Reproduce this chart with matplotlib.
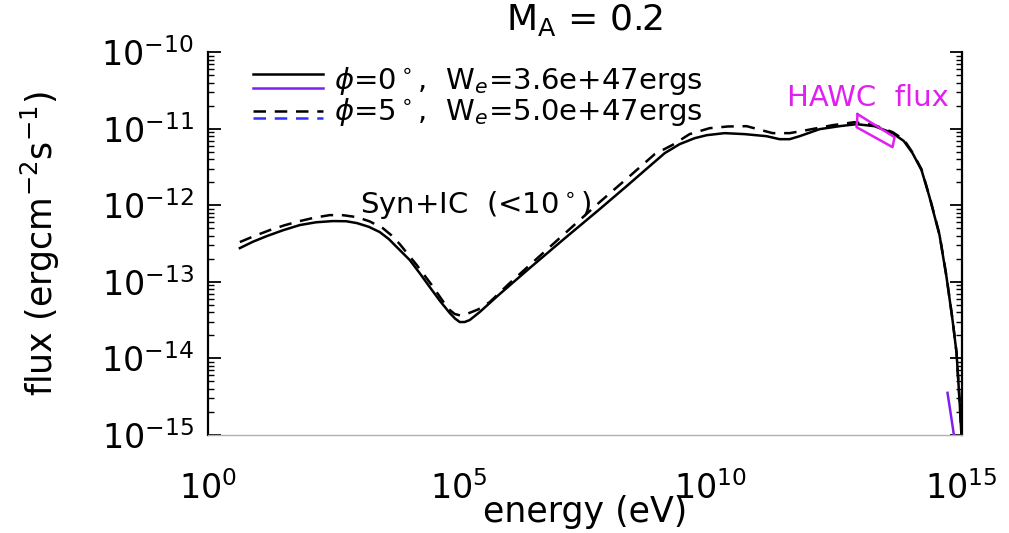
import numpy as np
import matplotlib
matplotlib.use("Agg")
import matplotlib.pyplot as plt

# log10(E / eV) and log10(flux)
solid_loge = [0.637, 0.90, 1.174, 1.50, 1.830, 2.15, 2.487, 2.75, 2.964, 3.20, 3.422, 3.60, 3.760,
              4.018, 4.22, 4.416, 4.62, 4.814, 4.92, 5.013, 5.11, 5.212, 5.411, 5.809, 6.405,
              7.062, 7.798, 8.335, 8.793, 9.091, 9.389, 9.688, 9.926, 10.284, 10.682, 11.120,
              11.379, 11.578, 11.777, 12.174, 12.572, 12.910, 13.268, 13.626, 13.85, 14.024,
              14.203, 14.362, 14.561, 14.700, 14.820, 14.900, 14.959, 14.999]
solid_logf = [-12.559, -12.475, -12.402, -12.325, -12.258, -12.222, -12.206, -12.208, -12.232,
              -12.280, -12.350, -12.440, -12.546, -12.715, -12.890, -13.068, -13.250, -13.407,
              -13.480, -13.525, -13.525, -13.499, -13.394, -13.159, -12.820, -12.454, -12.050,
              -11.749, -11.488, -11.319, -11.201, -11.123, -11.084, -11.057, -11.070, -11.097,
              -11.136, -11.136, -11.097, -11.005, -10.966, -10.940, -10.966, -11.057, -11.160,
              -11.319, -11.540, -11.893, -12.389, -12.937, -13.499, -13.930, -14.543, -15.026]

dash_loge = [0.637, 0.93, 1.233, 1.53, 1.830, 2.13, 2.427, 2.70, 2.964, 3.22, 3.481, 3.65, 3.819,
             4.158, 4.456, 4.675, 4.80, 4.913, 5.03, 5.152, 5.38, 5.610, 6.008, 6.405, 7.002,
             7.798, 8.395, 8.892, 9.250, 9.588, 9.986, 10.35, 10.722, 11.239, 11.578, 11.916,
             12.433, 12.870, 13.268, 13.626, 13.85, 14.024, 14.203, 14.362, 14.561, 14.700,
             14.820, 14.900, 14.959, 14.999]
dash_logf = [-12.480, -12.400, -12.324, -12.260, -12.206, -12.160, -12.128, -12.130, -12.154,
             -12.210, -12.298, -12.390, -12.507, -12.781, -13.042, -13.250, -13.360, -13.420,
             -13.440, -13.420, -13.360, -13.264, -13.016, -12.781, -12.428, -11.958, -11.619,
             -11.332, -11.210, -11.070, -10.992, -10.970, -10.966, -11.057, -11.057, -11.018,
             -10.953, -10.914, -10.953, -11.044, -11.140, -11.310, -11.530, -11.885, -12.380,
             -12.930, -13.490, -13.925, -14.540, -15.026]

# second component (only the tail is inside the frame)
had_loge = [14.72, 14.79, 14.87]
had_logf = [-14.45, -14.75, -15.10]

# HAWC flux box
hawc_loge = [12.930, 13.666, 13.626, 12.910, 12.930]
hawc_logf = [-10.809, -11.110, -11.240, -10.979, -10.809]

fig = plt.figure(figsize=(10.09, 5.33), dpi=100)
ax = fig.add_axes([0.206, 0.184, 0.747, 0.718])

ax.plot(10**np.array(solid_loge), 10**np.array(solid_logf), color="black", lw=1.8)
ax.plot(10**np.array(dash_loge), 10**np.array(dash_logf), color="black", lw=1.8, dashes=(5, 3.5))
ax.plot(10**np.array(had_loge), 10**np.array(had_logf), color="#8020f0", lw=1.8)
ax.plot(10**np.array(hawc_loge), 10**np.array(hawc_logf), color="#e020f0", lw=1.8)

ax.set_xscale("log")
ax.set_yscale("log")
ax.set_xlim(1, 1e15)
ax.set_ylim(1e-15, 1e-10)
ax.set_xticks([1, 1e5, 1e10, 1e15])
ax.xaxis.set_minor_locator(matplotlib.ticker.NullLocator())
ax.set_yticks([1e-15, 1e-14, 1e-13, 1e-12, 1e-11, 1e-10])

ax.spines["top"].set_visible(False)
ax.spines["bottom"].set_color("#b0b0b0")
ax.spines["bottom"].set_linewidth(1.0)
for s in ["left", "right"]:
    ax.spines[s].set_linewidth(1.6)

ax.tick_params(axis="x", length=0, labelsize=24, pad=26)
ax.tick_params(axis="y", which="major", direction="in", length=9, width=1.3,
               left=True, right=True, labelsize=24, pad=10)
ax.tick_params(axis="y", which="minor", direction="in", length=4.5, width=1.0,
               left=True, right=True)

ax.set_xlabel("energy (eV)", fontsize=25, labelpad=-8)
ax.set_ylabel("flux (ergcm$^{-2}$s$^{-1}$)", fontsize=25, labelpad=28)
ax.set_title("M$_\\mathrm{A}$ = 0.2", fontsize=26, pad=16)

# legend drawn by hand (two coloured lines per entry)
ax.plot([0.060, 0.153], [0.943, 0.943], color="black", lw=1.8, transform=ax.transAxes)
ax.plot([0.060, 0.153], [0.906, 0.906], color="#8020f0", lw=1.8, transform=ax.transAxes)
ax.plot([0.060, 0.153], [0.846, 0.846], color="black", lw=1.8, dashes=(5, 3.5), transform=ax.transAxes)
ax.plot([0.060, 0.153], [0.828, 0.828], color="#3030ff", lw=1.8, dashes=(5, 3.5), transform=ax.transAxes)
ax.text(0.168, 0.925, "$\\phi$=0$^\\circ$,  W$_e$=3.6e+47ergs", fontsize=21,
        transform=ax.transAxes, va="center")
ax.text(0.168, 0.845, "$\\phi$=5$^\\circ$,  W$_e$=5.0e+47ergs", fontsize=21,
        transform=ax.transAxes, va="center")

ax.text(10**3.02, 10**-12.0, "Syn+IC  (<10$^\\circ$)", fontsize=21, va="center")
ax.text(10**11.52, 10**-10.60, "HAWC  flux", fontsize=21, va="center", color="#e020f0")

fig.savefig("out.png", dpi=100)
